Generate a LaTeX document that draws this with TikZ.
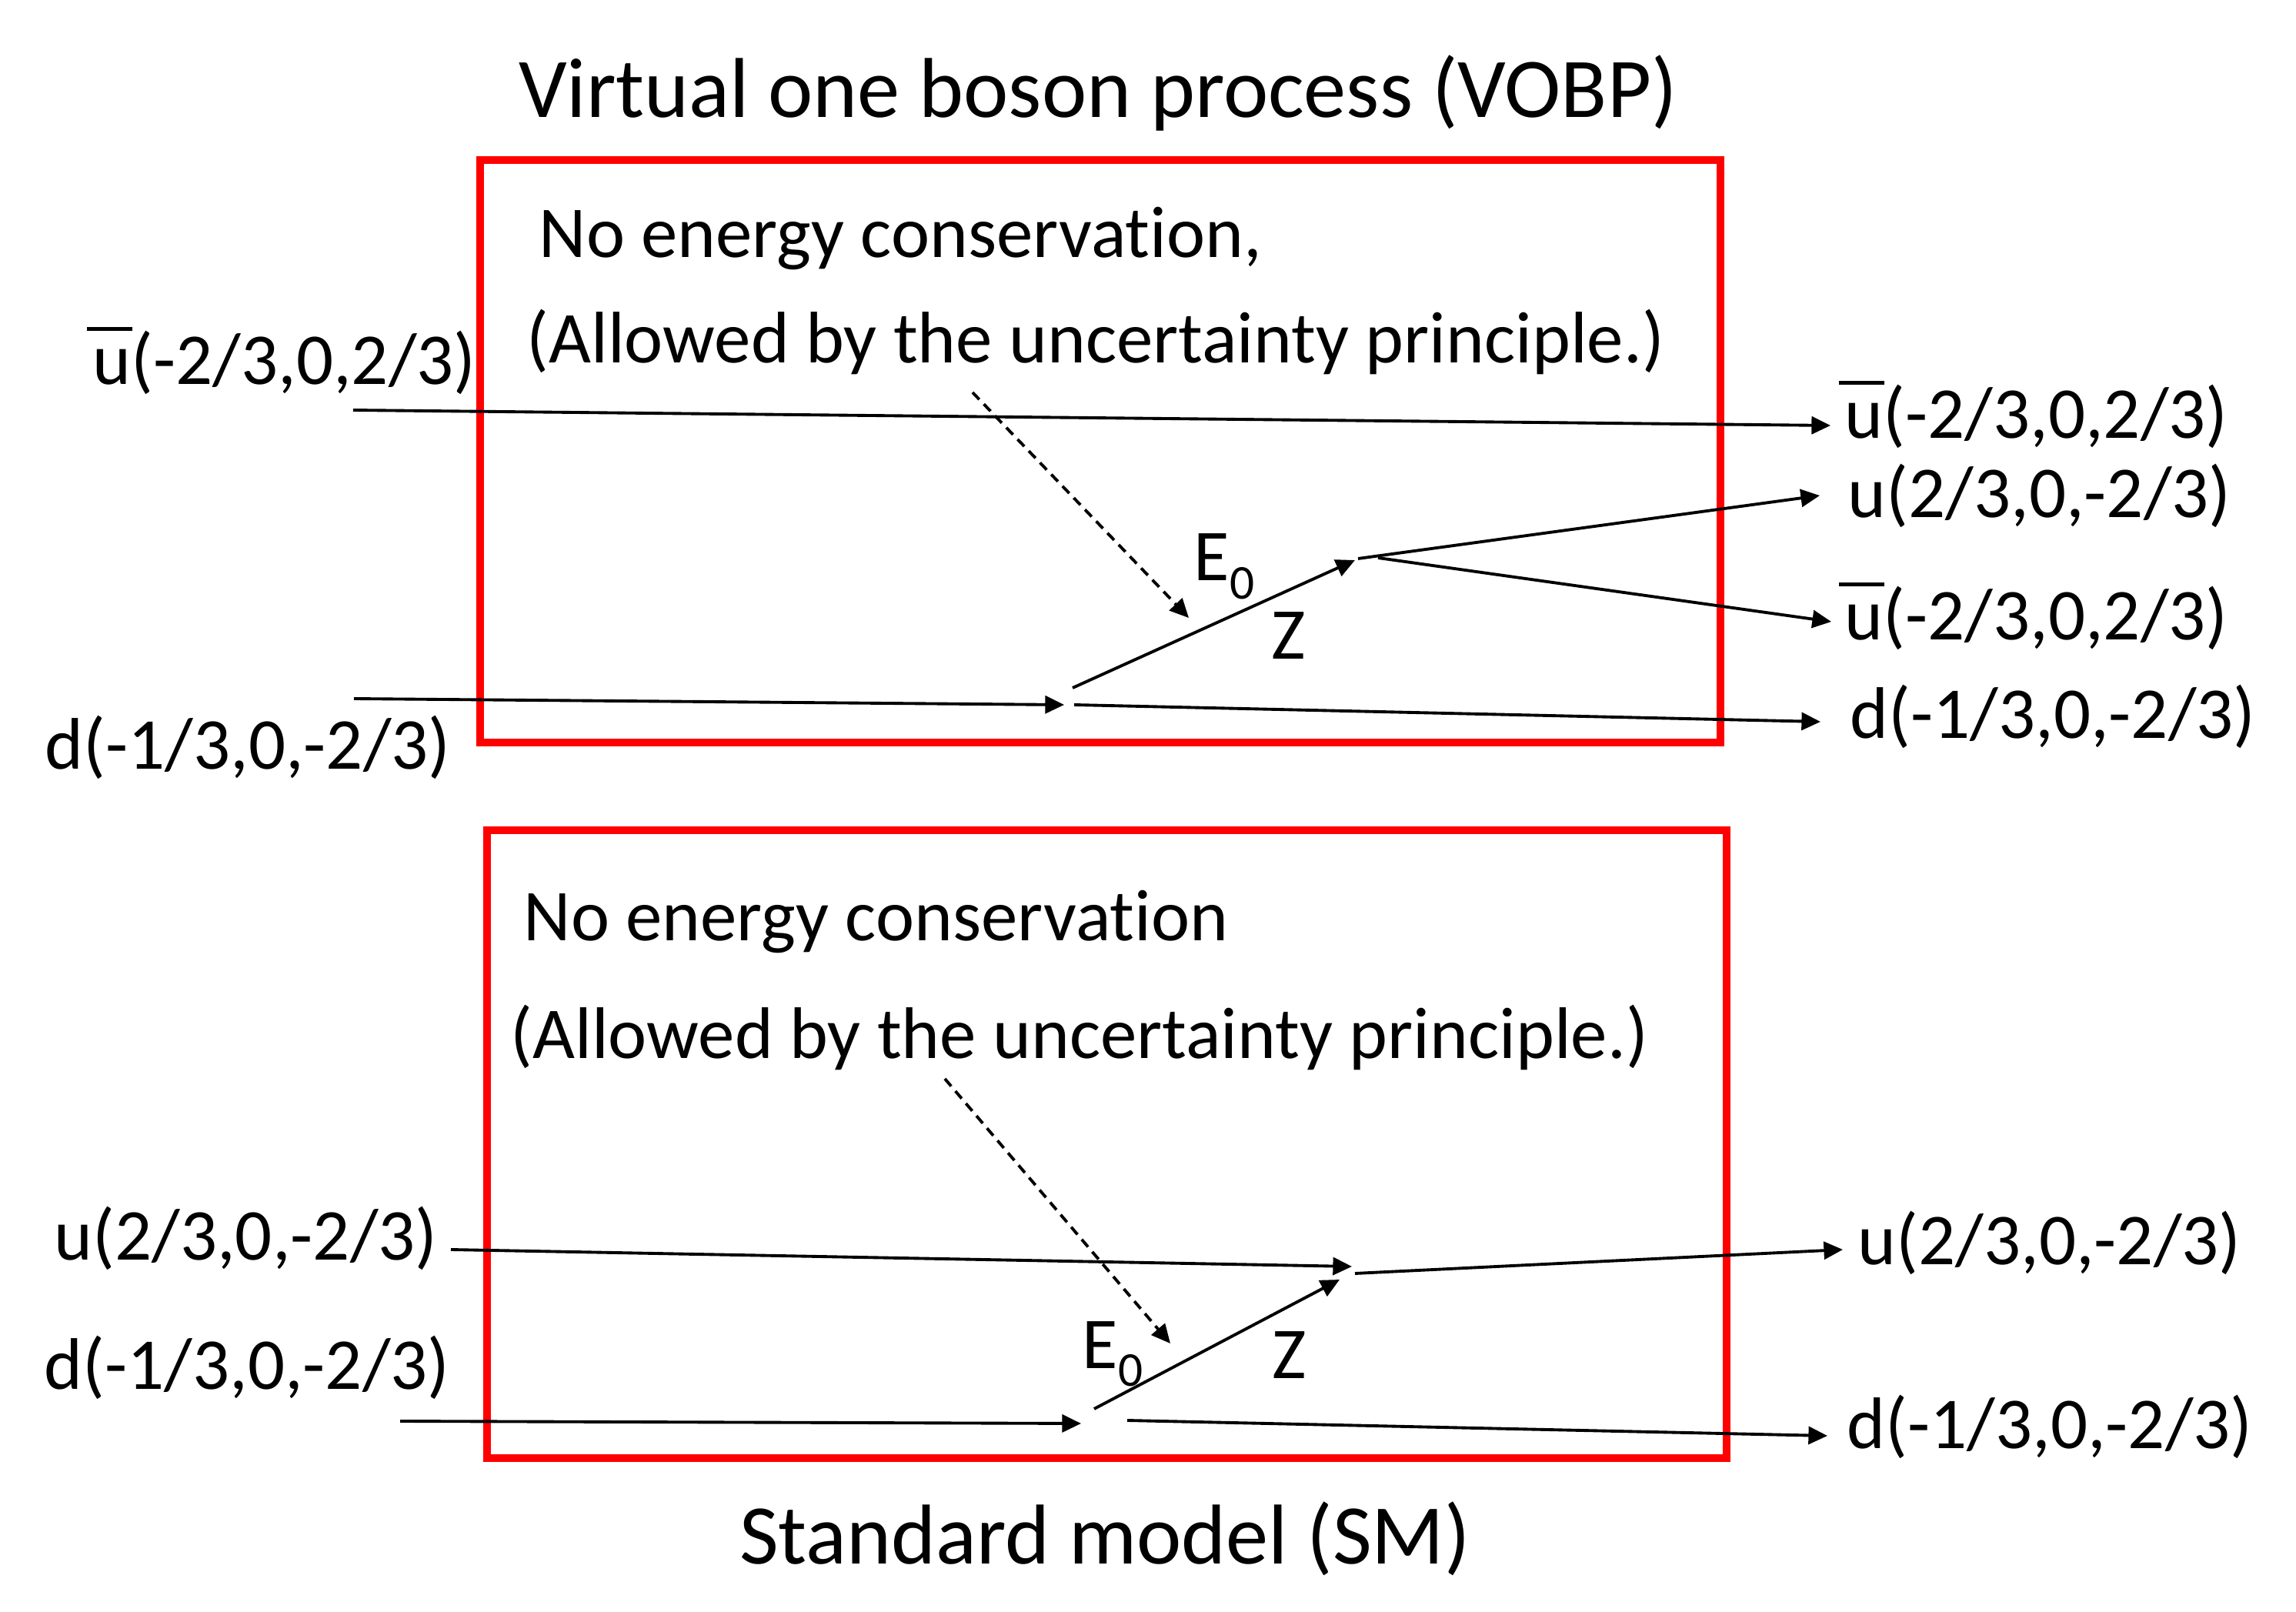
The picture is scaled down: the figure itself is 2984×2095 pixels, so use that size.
\documentclass[tikz,border=0pt]{standalone}
\usepackage{fontspec}
\setmainfont{Carlito}[Ligatures=NoCommon]
\usetikzlibrary{arrows.meta}

% Anti-quark with a bar, and E with subscript 0
\newcommand{\antiu}{\makebox[0pt][l]{\hspace{-0.08em}\raisebox{0.74em}{\rule{0.62em}{0.045em}}}u}
\newcommand{\Ezero}{E\raisebox{-0.25em}{\fontsize{18}{18}\selectfont 0}}

\begin{document}
\begin{tikzpicture}[x=0.01cm, y=-0.01cm,
  lbl/.style={anchor=base west, inner sep=0pt, font=\fontsize{27}{32}\selectfont},
  heading/.style={anchor=base, inner sep=0pt, font=\fontsize{31.4}{37}\selectfont},
  quark/.style={line width=1.1pt, -{Triangle[length=7pt,width=6.5pt]}},
  hint/.style={quark, dash pattern=on 3.6pt off 2.4pt},
  boxframe/.style={draw=red, line width=2.6pt}]

\useasboundingbox (0,0) rectangle (2984,2095);

% Titles
\node[heading] (title) at (1427,153) {Virtual one boson process (VOBP)};
\node[heading] (caption) at (1436,2032) {Standard model (SM)};

% Top process (VOBP)
\draw[boxframe] (624,208) rectangle (2236,965);
\node[lbl] (noteA) at (700,335) {No energy conservation,};
\node[lbl] (whyA) at (684,472) {(Allowed by the uncertainty principle.)};

\node[lbl] (ubarL) at (120,500) {\antiu(-2/3,0,2/3)};
\node[lbl] (dL) at (58,1000) {d(-1/3,0,-2/3)};
\node[lbl] (ubarR) at (2397,570) {\antiu(-2/3,0,2/3)};
\node[lbl] (uR) at (2401,673) {u(2/3,0,-2/3)};
\node[lbl] (ubarRR) at (2397,832) {\antiu(-2/3,0,2/3)};
\node[lbl] (dR) at (2404,960) {d(-1/3,0,-2/3)};
\node[lbl] (eA) at (1551,755) {\Ezero};
\node[lbl] (zA) at (1652,857) {Z};

\coordinate (ubarIn) at (459,533);
\coordinate (ubarEnd) at (2379,553);
\coordinate (dIn) at (460,908);
\coordinate (dHit) at (1383,916);
\coordinate (dOut) at (1396,916);
\coordinate (dEnd) at (2366,938);
\coordinate (zFrom) at (1394,894);
\coordinate (zTo) at (1761,728);
\coordinate (uOut) at (1765,726);
\coordinate (uEnd) at (2365,644);
\coordinate (ubarOut) at (1791,725);
\coordinate (ubarEndB) at (2380,808);
\coordinate (hintFrom) at (1264,510);
\coordinate (hintTo) at (1545,803);

\draw[quark] (ubarIn) -- (ubarEnd);
\draw[quark] (dIn) -- (dHit);
\draw[quark] (dOut) -- (dEnd);
\draw[quark] (zFrom) -- (zTo);
\draw[quark] (uOut) -- (uEnd);
\draw[quark] (ubarOut) -- (ubarEndB);
\draw[hint] (hintFrom) -- (hintTo);

% Bottom process (SM)
\draw[boxframe] (633,1079) rectangle (2244,1895);
\node[lbl] (noteB) at (680,1222) {No energy conservation};
\node[lbl] (whyB) at (663,1375) {(Allowed by the uncertainty principle.)};

\node[lbl] (uLB) at (70,1637) {u(2/3,0,-2/3)};
\node[lbl] (dLB) at (57,1805) {d(-1/3,0,-2/3)};
\node[lbl] (uRB) at (2414,1643) {u(2/3,0,-2/3)};
\node[lbl] (dRB) at (2400,1882) {d(-1/3,0,-2/3)};
\node[lbl] (eB) at (1406,1778) {\Ezero};
\node[lbl] (zB) at (1653,1791) {Z};

\coordinate (uInB) at (586,1624);
\coordinate (uHitB) at (1757,1646);
\coordinate (uOutB) at (1761,1655);
\coordinate (uEndB) at (2395,1624);
\coordinate (dInB) at (520,1847);
\coordinate (dHitB) at (1405,1850);
\coordinate (dOutB) at (1465,1846);
\coordinate (dEndB) at (2375,1866);
\coordinate (zFromB) at (1422,1831);
\coordinate (zToB) at (1741,1663);
\coordinate (hintFromB) at (1228,1402);
\coordinate (hintToB) at (1521,1746);

\draw[quark] (uInB) -- (uHitB);
\draw[quark] (uOutB) -- (uEndB);
\draw[quark] (dInB) -- (dHitB);
\draw[quark] (dOutB) -- (dEndB);
\draw[quark] (zFromB) -- (zToB);
\draw[hint] (hintFromB) -- (hintToB);

\end{tikzpicture}
\end{document}
